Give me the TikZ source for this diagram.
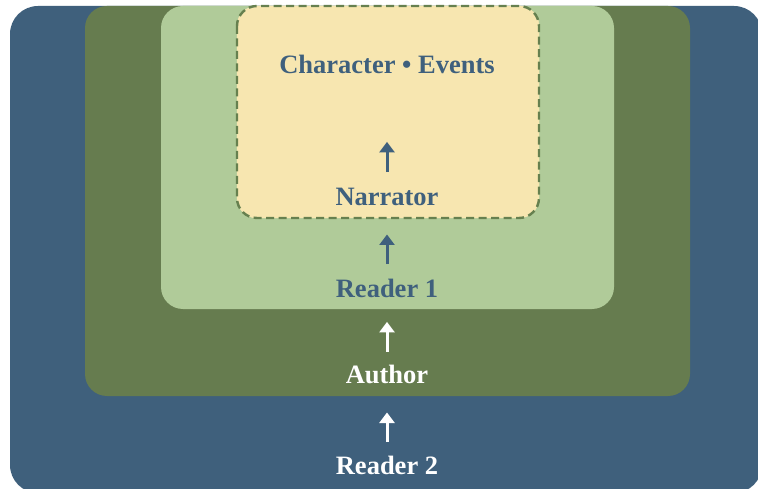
\documentclass[tikz,border=0pt]{standalone}
\usepackage{fontspec}
\setmainfont{Liberation Serif}
\usetikzlibrary{arrows.meta}
\definecolor{cblue}{HTML}{3F607C}
\definecolor{cdgreen}{HTML}{667C4F}
\definecolor{clgreen}{HTML}{B0CB99}
\definecolor{cyellow}{HTML}{F7E6B0}
\definecolor{cdash}{HTML}{66804F}
\definecolor{ctext}{HTML}{3F607D}
\tikzset{
  lbl/.style={inner sep=0pt, anchor=base, text height=17pt, text depth=5pt,
    font=\fontsize{26.5}{31}\selectfont\bfseries},
  arr/.style={line width=3pt, -{Triangle[width=15pt,length=10.5pt]}},
}
\begin{document}
\begin{tikzpicture}[x=1pt,y=-1pt]
\useasboundingbox (0,0) rectangle (758,489);
\fill[white] (0,0) rectangle (758,489);
\fill[cblue, rounded corners=28pt] (10,6) rectangle (762,493);
\fill[cdgreen, rounded corners=22pt] (85,6) rectangle (690,396);
\fill[clgreen, rounded corners=22pt] (161,6) rectangle (614,309);
\draw[cyellow, fill=cyellow, rounded corners=20pt] (237,6) rectangle (539,218);
\draw[cdash, line width=2.4pt, dash pattern=on 8pt off 4.5pt, rounded corners=20pt] (237,6) rectangle (539,218);
\node[lbl, text=ctext] (char) at (387,74) {Character • Events};
\node[lbl, text=ctext] (narr) at (387,205.7) {Narrator};
\node[lbl, text=ctext] (r1) at (387,297.3) {Reader 1};
\node[lbl, text=white] (auth) at (387,383.3) {Author};
\node[lbl, text=white] (r2) at (387,474.3) {Reader 2};
\draw[arr, ctext, shorten <=16.4pt, shorten >=62.7pt] (narr.north) -- (char.south);
\draw[arr, ctext, shorten <=16pt, shorten >=23.6pt] (r1.north) -- (narr.south);
\draw[arr, white, shorten <=14.6pt, shorten >=19.4pt] (auth.north) -- (r1.south);
\draw[arr, white, shorten <=15pt, shorten >=24pt] (r2.north) -- (auth.south);
\end{tikzpicture}
\end{document}
